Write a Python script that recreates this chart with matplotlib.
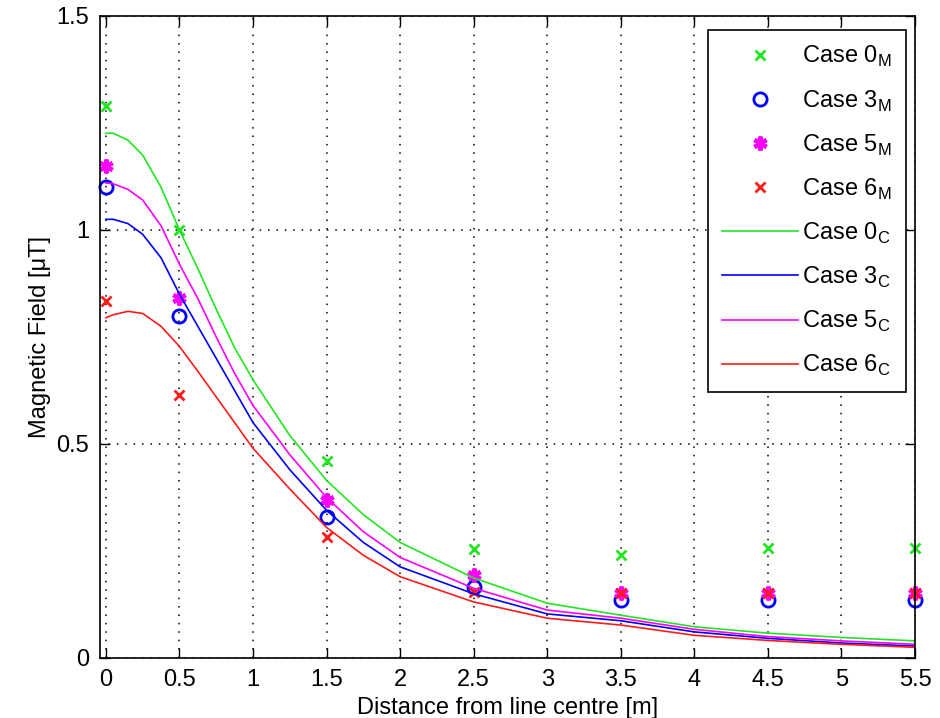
import matplotlib
matplotlib.use('Agg')
import matplotlib.pyplot as plt

# distancias medidas y calculadas [m]
x_medido = [0, 0.5, 1.5, 2.5, 3.5, 4.5, 5.5]
x_calculado = [0, 0.05, 0.15, 0.25, 0.375, 0.5, 0.625, 0.75, 0.875, 1,
               1.25, 1.5, 1.75, 2, 2.5, 3, 3.5, 4, 4.5, 5, 5.5]

# valores medidos [uT]
case0_m = [1.29, 1.0, 0.46, 0.255, 0.24, 0.257, 0.257]
case3_m = [1.10, 0.80, 0.33, 0.166, 0.136, 0.136, 0.136]
case5_m = [1.15, 0.84, 0.37, 0.195, 0.152, 0.152, 0.152]
case6_m = [0.835, 0.615, 0.283, 0.155, 0.152, 0.152, 0.152]

# valores calculados [uT]
case0_c = [1.226, 1.226, 1.21, 1.175, 1.10, 1.0, 0.91, 0.815, 0.725, 0.65,
           0.52, 0.415, 0.335, 0.27, 0.187, 0.128, 0.10, 0.073, 0.058, 0.048, 0.040]
case3_c = [1.025, 1.025, 1.015, 0.99, 0.935, 0.85, 0.775, 0.70, 0.625, 0.55,
           0.44, 0.345, 0.27, 0.213, 0.15, 0.103, 0.087, 0.061, 0.046, 0.035, 0.028]
case5_c = [1.11, 1.108, 1.095, 1.07, 1.01, 0.92, 0.84, 0.75, 0.665, 0.59,
           0.475, 0.375, 0.295, 0.235, 0.163, 0.112, 0.093, 0.067, 0.05, 0.04, 0.032]
case6_c = [0.795, 0.802, 0.81, 0.805, 0.775, 0.728, 0.67, 0.61, 0.55, 0.49,
           0.395, 0.305, 0.24, 0.19, 0.131, 0.093, 0.077, 0.053, 0.041, 0.032, 0.025]

x_ticks = [0, 0.5, 1, 1.5, 2, 2.5, 3, 3.5, 4, 4.5, 5, 5.5]
x_tick_labels = ['0', '0.5', '1', '1.5', '2', '2.5', '3', '3.5', '4', '4.5', '5', '5.5']
y_ticks = [0, 0.5, 1, 1.5]
y_tick_labels = ['0', '0.5', '1', '1.5']

verde = '#22e622'
azul = '#0000ff'
magenta = '#ff00ff'
rojo = '#ff1a1a'


def graficar():
    plt.rcParams['font.family'] = ['Liberation Sans', 'DejaVu Sans']
    plt.rcParams['mathtext.fontset'] = 'custom'
    plt.rcParams['mathtext.rm'] = 'Liberation Sans'
    plt.rcParams['font.size'] = 17

    fig = plt.figure(figsize=(9.4, 7.18), dpi=100)
    ax = fig.add_axes([100 / 940, 60 / 718, 815 / 940, 642 / 718])

    ax.plot(x_medido, case0_m, 'x', color=verde, ms=7, mew=2,
            clip_on=False, label='Case 0$_{\\rm M}$')
    ax.plot(x_medido, case3_m, 'o', color=azul, ms=9.5, mew=2, mfc='none',
            clip_on=False, label='Case 3$_{\\rm M}$')
    ax.plot(x_medido, case5_m, marker=(6, 2, 0), ls='none', color=magenta,
            ms=10, mew=3, clip_on=False, label='Case 5$_{\\rm M}$')
    ax.plot(x_medido, case6_m, 'x', color=rojo, ms=7, mew=2,
            clip_on=False, label='Case 6$_{\\rm M}$')

    ax.plot(x_calculado, case0_c, color=verde, lw=1.2, label='Case 0$_{\\rm C}$')
    ax.plot(x_calculado, case3_c, color=azul, lw=1.2, label='Case 3$_{\\rm C}$')
    ax.plot(x_calculado, case5_c, color=magenta, lw=1.2, label='Case 5$_{\\rm C}$')
    ax.plot(x_calculado, case6_c, color=rojo, lw=1.2, label='Case 6$_{\\rm C}$')

    ax.set_xlim(-0.04, 5.5)
    ax.set_ylim(0, 1.5)
    ax.set_xticks(x_ticks)
    ax.set_xticklabels(x_tick_labels)
    ax.set_yticks(y_ticks)
    ax.set_yticklabels(y_tick_labels)
    ax.tick_params(direction='in', length=7, width=1, top=True, right=True,
                   labelsize=17, pad=8)
    ax.grid(True, color='black', linestyle=(0, (1, 4.5)), linewidth=1.1)
    for lado in ax.spines.values():
        lado.set_linewidth(1.2)

    ax.set_xlabel('Distance from line centre [m]', fontsize=17, labelpad=4)
    ax.set_ylabel('Magnetic Field [\u03bcT]', fontsize=17, labelpad=4)

    leyenda = ax.legend(loc='upper right', bbox_to_anchor=(0.989, 0.978),
                        borderaxespad=0, fancybox=False, framealpha=1,
                        edgecolor='black', fontsize=17, handlelength=3.2,
                        handletextpad=0.2, labelspacing=0.8,
                        borderpad=0.6)
    leyenda.get_frame().set_linewidth(1.2)

    fig.savefig('out.png', dpi=100)


if __name__ == '__main__':
    graficar()
